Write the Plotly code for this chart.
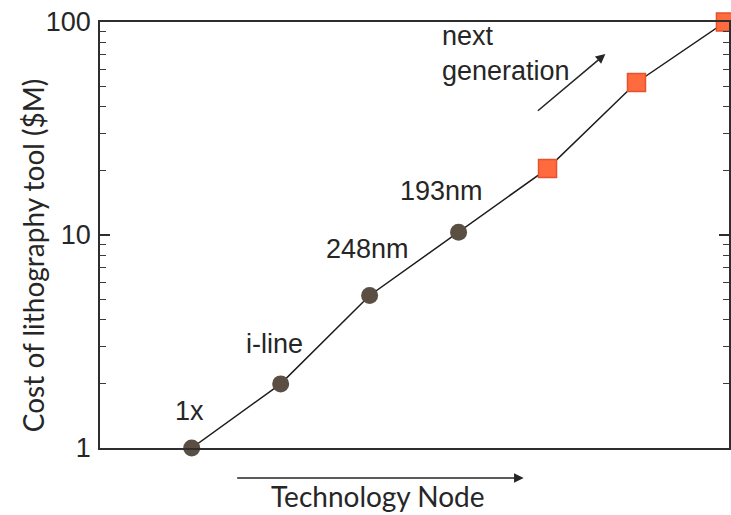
import math
import plotly.graph_objects as go

# Successive lithography generations, ordered along the technology-node axis
gen_x = [1, 2, 3, 4]
gen_cost = [1.0, 2.0, 5.2, 10.3]
gen_names = ["1x", "i-line", "248nm", "193nm"]

next_x = [5, 6, 7]
next_cost = [20.5, 52.0, 100.0]

trend_x = gen_x + next_x
trend_cost = gen_cost + next_cost

y_tick_vals = [1, 10, 100]
y_tick_text = ["1", "10", "100"]

W, H = 731, 515
ML, MR, MT, MB = 100, 0, 22, 67
PW, PH = W - ML - MR, H - MT - MB


def px(x, y):
    """Pixel position on the page -> paper coordinates."""
    return (x - ML) / PW, (H - MB - y) / PH


INK = "#262626"
LABEL_FONT = dict(family="Liberation Sans, Arial, sans-serif", size=27, color=INK)
TITLE_FONT = dict(family="Lato, Open Sans, sans-serif", size=28, color=INK)

fig = go.Figure()

fig.add_trace(go.Scatter(
    x=trend_x, y=trend_cost, mode="lines",
    line=dict(color="#1c1c1c", width=1.5),
    hoverinfo="skip", showlegend=False,
))
fig.add_trace(go.Scatter(
    x=gen_x, y=gen_cost, mode="markers",
    marker=dict(symbol="circle", size=17, color="#5b4f43",
                line=dict(width=0)),
    cliponaxis=False, showlegend=False,
))
fig.add_trace(go.Scatter(
    x=next_x, y=next_cost, mode="markers",
    marker=dict(symbol="square", size=18, color="#ff6a3e",
                line=dict(color="#e4532d", width=1.5)),
    cliponaxis=False, showlegend=False,
))

annotations = []

# generation labels above each circle (log axis: annotation y is log10)
label_shift = [(-2, 37), (-6, 40), (-2, 46), (-17, 41)]
for gx, gc, name, (dx, dy) in zip(gen_x, gen_cost, gen_names, label_shift):
    annotations.append(dict(
        x=gx, y=math.log10(gc), xref="x", yref="y", text=name, showarrow=False,
        xshift=dx, yshift=dy, font=LABEL_FONT,
        xanchor="center", yanchor="middle",
    ))

# "next generation" note with its arrow
nx, ny = px(441, 19)
annotations.append(dict(
    x=nx, y=ny, xref="paper", yref="paper", xanchor="left", yanchor="top",
    text="next<br>generation", align="left", showarrow=False,
    font=LABEL_FONT,
))
hx, hy = px(607, 54)
annotations.append(dict(
    x=hx, y=hy, xref="paper", yref="paper", text="", showarrow=True,
    ax=-69, ay=58, axref="pixel", ayref="pixel",
    arrowhead=2, arrowsize=1.2, arrowwidth=1.6, arrowcolor=INK,
))

# x-axis caption with arrow
tx, ty = px(525, 478)
annotations.append(dict(
    x=tx, y=ty, xref="paper", yref="paper", text="", showarrow=True,
    ax=-288, ay=0, axref="pixel", ayref="pixel",
    arrowhead=2, arrowsize=1.2, arrowwidth=1.6, arrowcolor=INK,
))
cx, cy = px(379, 496)
annotations.append(dict(
    x=cx, y=cy, xref="paper", yref="paper", text="Technology Node",
    showarrow=False, font=TITLE_FONT, xanchor="center", yanchor="middle",
))

# y-axis caption
yx, yy = px(33, 256)
annotations.append(dict(
    x=yx, y=yy, xref="paper", yref="paper", text="Cost of lithography tool ($M)",
    showarrow=False, font=TITLE_FONT, textangle=-90,
    xanchor="center", yanchor="middle",
))

fig.update_layout(
    width=W, height=H,
    margin=dict(l=ML, r=MR, t=MT, b=MB),
    paper_bgcolor="white", plot_bgcolor="white",
    showlegend=False,
    annotations=annotations,
    xaxis=dict(
        range=[-0.031, 7.04], showgrid=False, zeroline=False,
        showticklabels=False, ticks="",
        showline=True, linecolor="#2e2e2e", linewidth=1.5, mirror=True,
    ),
    yaxis=dict(
        type="log", range=[0, 2], showgrid=False, zeroline=False,
        tickmode="array", tickvals=y_tick_vals, ticktext=y_tick_text,
        ticks="inside", ticklen=10, tickwidth=1.5, tickcolor="#2e2e2e",
        tickfont=dict(family="Liberation Sans, Arial, sans-serif", size=27, color=INK),
        ticklabelstandoff=2,
        minor=dict(ticks="inside", ticklen=6, tickwidth=1.2,
                   tickcolor="#3a3a3a", dtick="D1", showgrid=False),
        showline=True, linecolor="#2e2e2e", linewidth=1.5, mirror="ticks",
    ),
)

fig.write_html("out.html")
